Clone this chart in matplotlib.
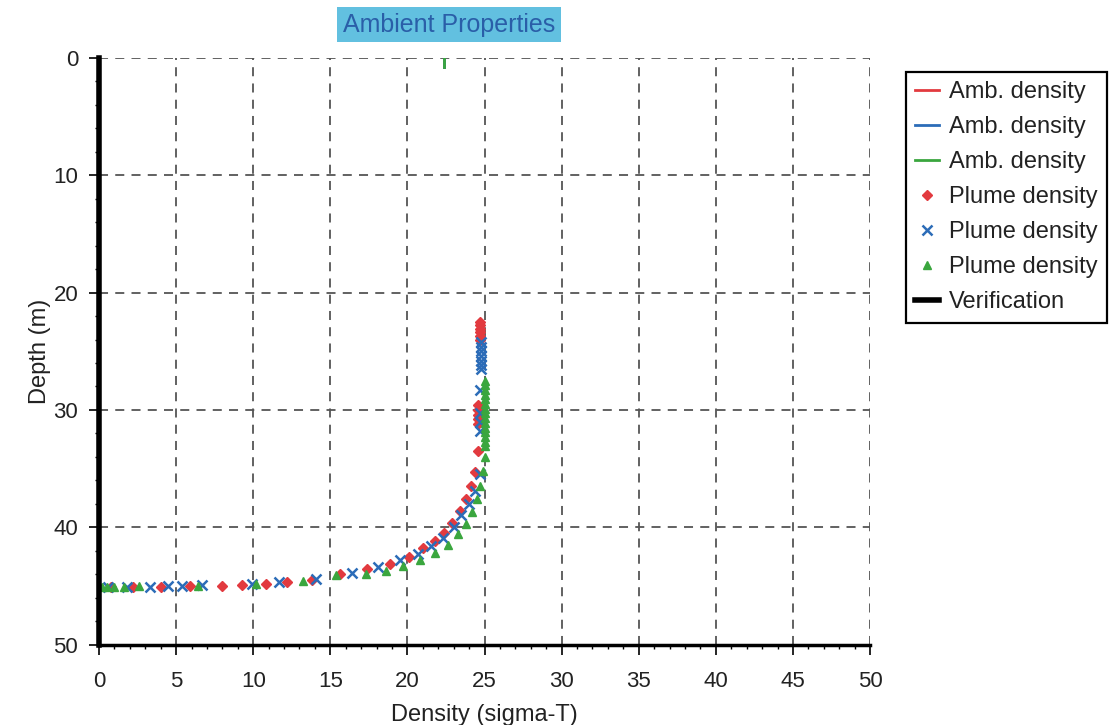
import numpy as np
import matplotlib.pyplot as plt
from matplotlib.ticker import MultipleLocator

plt.rcParams['font.family'] = ['Liberation Sans', 'DejaVu Sans']

# ambient density profiles (x = sigma-T, y = depth)
amb_x = [22.4, 22.4]
amb_y = [0.0, 0.8]

# verification line
ver_x = [0, 0]
ver_y = [0, 50]

# plume density, three runs
red_x = [24.7, 24.7, 24.7, 24.7, 24.7, 24.7, 24.6, 24.6, 24.6, 24.6, 24.6,
         24.6, 24.4, 24.1, 23.8, 23.4, 22.9, 22.4, 21.8, 21.0, 20.1, 18.9,
         17.4, 15.6, 13.8, 12.2, 10.8, 9.3, 8.0, 5.9, 4.0, 2.2, 0.8]
red_y = [22.5, 22.8, 23.1, 23.4, 23.7, 24.0, 29.6, 30.0, 30.4, 30.8, 31.2,
         33.5, 35.3, 36.5, 37.6, 38.6, 39.6, 40.5, 41.2, 41.8, 42.5, 43.1,
         43.6, 44.0, 44.5, 44.7, 44.85, 44.95, 45.0, 45.05, 45.1, 45.1, 45.1]

blue_x = [24.8, 24.8, 24.8, 24.8, 24.8, 24.8, 24.8, 24.7, 24.7, 24.7, 24.7,
          24.7, 24.4, 24.0, 23.5, 23.0, 22.3, 21.5, 20.7, 19.5, 18.1, 16.4,
          14.1, 11.7, 9.9, 6.7, 5.4, 4.5, 3.3, 1.8, 0.6]
blue_y = [24.2, 24.6, 25.0, 25.4, 25.8, 26.2, 26.5, 28.3, 30.3, 31.0, 31.8,
          35.5, 36.9, 38.0, 39.0, 40.0, 40.9, 41.6, 42.3, 42.8, 43.4, 43.9,
          44.4, 44.7, 44.85, 44.95, 45.0, 45.0, 45.1, 45.1, 45.1]

green_x = [25.0, 25.0, 25.0, 25.0, 25.0, 25.0, 25.0, 25.0, 25.0, 25.0, 25.0,
           25.0, 25.0, 25.0, 25.0, 25.0, 24.9, 24.7, 24.5, 24.2, 23.8, 23.3,
           22.6, 21.8, 20.8, 19.7, 18.6, 17.3, 15.4, 13.2, 10.2, 6.4, 2.6,
           1.6, 1.0, 0.5, 0.2]
green_y = [27.5, 27.9, 28.3, 28.7, 29.1, 29.5, 29.9, 30.3, 30.7, 31.1, 31.5,
           31.9, 32.3, 32.7, 33.1, 34.0, 35.2, 36.5, 37.6, 38.7, 39.7, 40.6,
           41.5, 42.2, 42.8, 43.3, 43.7, 44.0, 44.1, 44.6, 44.8, 45.0, 45.05,
           45.1, 45.1, 45.1, 45.1]

RED = '#e23a3f'
BLUE = '#2c6cb8'
GREEN = '#3aa63e'

fig = plt.figure(figsize=(11.15, 7.25), dpi=100)
ax = fig.add_axes([0.0888, 0.111, 0.6915, 0.809])

ax.plot(amb_x, amb_y, color=RED, lw=2, label='Amb. density')
ax.plot(amb_x, amb_y, color=BLUE, lw=2, label='Amb. density')
ax.plot(amb_x, amb_y, color=GREEN, lw=2, label='Amb. density')
ax.plot(red_x, red_y, ls='none', marker='D', ms=5.5, color=RED, label='Plume density')
ax.plot(blue_x, blue_y, ls='none', marker='x', ms=7, mew=1.8, color=BLUE, label='Plume density')
ax.plot(green_x, green_y, ls='none', marker='^', ms=6, color=GREEN, label='Plume density')
ax.plot(ver_x, ver_y, color='black', lw=4, clip_on=False, label='Verification')

ax.set_xlim(0, 50)
ax.set_ylim(50, 0)
ax.xaxis.set_major_locator(MultipleLocator(5))
ax.xaxis.set_minor_locator(MultipleLocator(1))
ax.yaxis.set_major_locator(MultipleLocator(10))
ax.yaxis.set_minor_locator(MultipleLocator(2))
ax.tick_params(which='major', direction='out', length=7, width=1.2,
               labelsize=16, labelcolor='#222222')
ax.tick_params(which='minor', direction='out', length=3, width=1)
ax.tick_params(axis='x', pad=12)
ax.tick_params(axis='y', pad=8)

ax.grid(True, ls=(0, (5, 4)), color='#555555', lw=1.3)
ax.spines['top'].set_visible(False)
ax.spines['right'].set_visible(False)
ax.spines['bottom'].set_linewidth(2.5)
ax.spines['left'].set_linewidth(1)
ax.set_axisbelow(True)

ax.set_xlabel('Density (sigma-T)', fontsize=17, labelpad=9, color='#222222')
ax.set_ylabel('Depth (m)', fontsize=17, labelpad=2, color='#222222')

fig.text(0.4027, 0.966, 'Ambient Properties', ha='center', va='center',
         fontsize=18, color='#2a5ea8',
         bbox=dict(boxstyle='square,pad=0.22', facecolor='#62c0e0', edgecolor='none'))

leg = ax.legend(loc='upper left', bbox_to_anchor=(0.8126, 0.9007),
                bbox_transform=fig.transFigure, fontsize=17, fancybox=False,
                edgecolor='black', framealpha=1, handlelength=1.0,
                handletextpad=0.4, labelspacing=0.55, borderpad=0.4,
                borderaxespad=0)
leg.get_frame().set_linewidth(1.6)
for t in leg.get_texts():
    t.set_color('#222222')

fig.savefig('out.png', dpi=100)
